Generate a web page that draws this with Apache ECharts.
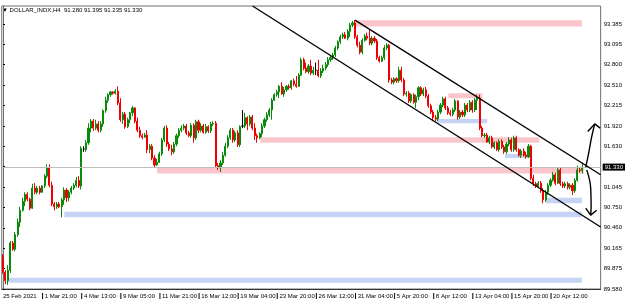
<!DOCTYPE html>
<html>
<head>
<meta charset="utf-8">
<script src="https://cdn.jsdelivr.net/npm/echarts@6/dist/echarts.min.js"></script>
<style>
html, body { margin: 0; padding: 0; background: #fff; }
#chart { width: 625px; height: 304px; }
</style>
</head>
<body>
<div id="chart"></div>
<script>
// header text and last bar quote
const symbolName = 'DOLLAR_INDX,H4'
const lastQuote = ['91.280', '91.395', '91.235', '91.330']
const lastPrice = 91.33

// time axis: one label every 16 H4 bars, 245 slots (chart shift on the right)
const timeLabels = ['25 Feb 2021', '1 Mar 21:00', '4 Mar 13:00', '9 Mar 05:00', '11 Mar 21:00',
  '16 Mar 12:00', '19 Mar 04:00', '23 Mar 20:00', '26 Mar 12:00', '31 Mar 04:00',
  '5 Apr 20:00', '8 Apr 12:00', '13 Apr 04:00', '15 Apr 20:00', '20 Apr 12:00']
const barsPerLabel = 16
const slotCount = 245

// price scale labels (index 6 is covered by the current price box)
const priceMin = 89.58
const priceMax = 93.643
const priceLabels = ['89.580', '89.875', '90.165', '90.460', '90.750', '91.045', '',
  '91.630', '91.920', '92.215', '92.510', '92.800', '93.095', '93.385']

// OHLC, 238 bars
const opens = [
  90.04, 89.82, 89.70, 89.85, 90.24, 90.15, 90.36, 90.54, 90.71, 90.84,
  90.94, 90.87, 90.74, 91.03, 90.97, 91.03, 90.97, 91.06, 91.20, 91.32,
  91.07, 90.80, 90.76, 90.80, 90.76, 90.86, 91.00, 90.89, 90.97, 91.03,
  91.07, 91.14, 91.06, 91.59, 91.58, 91.68, 91.89, 91.99, 91.89, 91.95,
  91.86, 91.95, 92.14, 92.29, 92.37, 92.41, 92.39, 92.42, 92.25, 92.01,
  92.09, 91.91, 92.01, 92.11, 92.18, 91.99, 91.86, 91.78, 91.76, 91.79,
  91.58, 91.63, 91.46, 91.36, 91.40, 91.52, 91.72, 91.89, 91.66, 91.59,
  91.55, 91.66, 91.78, 91.86, 91.89, 91.92, 91.82, 91.78, 91.93, 91.75,
  91.98, 91.86, 91.92, 91.83, 91.91, 91.85, 91.95, 91.96, 91.35, 91.32,
  91.39, 91.50, 91.63, 91.75, 91.86, 91.72, 91.82, 91.65, 91.92, 91.92,
  92.04, 91.95, 92.05, 91.89, 91.78, 91.75, 91.81, 91.92, 92.01, 92.08,
  92.15, 92.29, 92.37, 92.41, 92.49, 92.38, 92.44, 92.49, 92.47, 92.57,
  92.52, 92.49, 92.65, 92.87, 92.75, 92.70, 92.78, 92.68, 92.72, 92.72,
  92.64, 92.71, 92.75, 92.80, 92.87, 92.90, 92.94, 93.04, 93.13, 93.20,
  93.23, 93.18, 93.28, 93.37, 93.40, 93.20, 93.08, 92.98, 93.15, 93.21,
  93.18, 93.11, 93.18, 93.14, 92.90, 92.85, 92.90, 93.04, 93.08, 92.58,
  92.55, 92.60, 92.57, 92.72, 92.58, 92.38, 92.39, 92.28, 92.37, 92.26,
  92.34, 92.47, 92.38, 92.44, 92.35, 92.21, 92.12, 92.04, 92.02, 92.12,
  92.22, 92.31, 92.18, 92.11, 92.09, 92.15, 92.28, 92.05, 92.12, 92.08,
  92.22, 92.15, 92.26, 92.15, 92.29, 92.32, 91.89, 91.78, 91.79, 91.69,
  91.75, 91.62, 91.68, 91.58, 91.70, 91.62, 91.55, 91.66, 91.72, 91.58,
  91.75, 91.58, 91.50, 91.56, 91.50, 91.48, 91.63, 91.17, 91.09, 91.06,
  91.10, 90.99, 90.86, 90.97, 91.07, 91.14, 91.22, 91.10, 91.29, 91.09,
  91.06, 91.09, 91.04, 91.07, 90.99, 91.14, 91.29, 91.28
]
const closes = [
  89.82, 89.70, 89.85, 90.24, 90.15, 90.36, 90.54, 90.71, 90.84, 90.94,
  90.87, 90.74, 91.03, 90.97, 91.03, 90.97, 91.06, 91.20, 91.32, 91.07,
  90.80, 90.76, 90.80, 90.76, 90.86, 91.00, 90.89, 90.97, 91.03, 91.07,
  91.14, 91.06, 91.60, 91.59, 91.68, 91.89, 91.99, 91.89, 91.95, 91.86,
  91.95, 92.14, 92.29, 92.37, 92.41, 92.39, 92.42, 92.25, 92.01, 92.09,
  91.91, 92.01, 92.11, 92.18, 91.99, 91.86, 91.78, 91.76, 91.79, 91.58,
  91.63, 91.46, 91.36, 91.40, 91.52, 91.72, 91.89, 91.66, 91.59, 91.55,
  91.66, 91.78, 91.86, 91.89, 91.92, 91.82, 91.78, 91.93, 91.75, 91.98,
  91.86, 91.92, 91.83, 91.91, 91.85, 91.95, 91.96, 91.35, 91.32, 91.39,
  91.50, 91.63, 91.75, 91.86, 91.72, 91.82, 91.65, 91.91, 91.92, 92.04,
  91.95, 92.05, 91.89, 91.78, 91.75, 91.81, 91.92, 92.01, 92.08, 92.15,
  92.29, 92.37, 92.41, 92.49, 92.38, 92.44, 92.49, 92.47, 92.57, 92.52,
  92.49, 92.65, 92.87, 92.75, 92.70, 92.78, 92.68, 92.72, 92.72, 92.64,
  92.71, 92.75, 92.80, 92.87, 92.90, 92.94, 93.04, 93.13, 93.20, 93.23,
  93.18, 93.28, 93.37, 93.40, 93.20, 93.08, 92.98, 93.15, 93.21, 93.18,
  93.11, 93.18, 93.14, 92.90, 92.85, 92.90, 93.04, 93.08, 92.58, 92.55,
  92.60, 92.57, 92.72, 92.58, 92.38, 92.39, 92.28, 92.37, 92.26, 92.34,
  92.47, 92.38, 92.44, 92.35, 92.21, 92.12, 92.04, 92.02, 92.12, 92.22,
  92.31, 92.18, 92.11, 92.09, 92.15, 92.28, 92.05, 92.12, 92.08, 92.22,
  92.15, 92.26, 92.15, 92.29, 92.32, 91.89, 91.78, 91.79, 91.69, 91.75,
  91.62, 91.68, 91.58, 91.70, 91.62, 91.55, 91.66, 91.72, 91.58, 91.75,
  91.58, 91.50, 91.56, 91.50, 91.48, 91.63, 91.17, 91.09, 91.06, 91.10,
  90.99, 90.86, 90.97, 91.07, 91.14, 91.22, 91.10, 91.29, 91.09, 91.06,
  91.09, 91.04, 91.07, 90.99, 91.14, 91.29, 91.28, 91.33
]
const lows = [
  89.80, 89.65, 89.64, 89.81, 90.13, 90.12, 90.33, 90.47, 90.69, 90.77,
  90.84, 90.71, 90.73, 90.94, 90.94, 90.94, 90.96, 91.03, 91.17, 91.04,
  90.77, 90.71, 90.73, 90.74, 90.61, 90.79, 90.83, 90.84, 90.94, 91.00,
  91.04, 91.03, 91.01, 91.55, 91.55, 91.65, 91.83, 91.85, 91.86, 91.83,
  91.83, 91.91, 92.11, 92.25, 92.34, 92.37, 92.37, 92.22, 91.98, 91.95,
  91.88, 91.89, 91.96, 92.06, 91.96, 91.83, 91.75, 91.73, 91.75, 91.53,
  91.53, 91.43, 91.32, 91.35, 91.39, 91.49, 91.69, 91.62, 91.56, 91.50,
  91.52, 91.63, 91.75, 91.83, 91.86, 91.79, 91.76, 91.75, 91.68, 91.72,
  91.82, 91.83, 91.81, 91.81, 91.82, 91.82, 91.92, 91.32, 91.29, 91.26,
  91.36, 91.48, 91.60, 91.72, 91.68, 91.69, 91.62, 91.62, 91.89, 91.89,
  91.86, 91.92, 91.86, 91.72, 91.68, 91.73, 91.76, 91.89, 91.98, 92.05,
  92.01, 92.28, 92.34, 92.32, 92.37, 92.34, 92.41, 92.44, 92.44, 92.49,
  92.47, 92.48, 92.64, 92.72, 92.68, 92.67, 92.65, 92.65, 92.65, 92.62,
  92.61, 92.68, 92.72, 92.77, 92.84, 92.87, 92.91, 93.01, 93.10, 93.17,
  93.17, 93.15, 93.20, 93.34, 93.17, 93.05, 92.95, 92.95, 93.13, 93.15,
  93.08, 93.08, 93.11, 92.87, 92.83, 92.84, 92.87, 93.01, 92.54, 92.52,
  92.52, 92.54, 92.54, 92.55, 92.35, 92.34, 92.25, 92.25, 92.24, 92.18,
  92.29, 92.35, 92.35, 92.32, 92.18, 92.09, 91.99, 91.99, 91.99, 92.09,
  92.19, 92.15, 92.08, 92.06, 92.06, 92.12, 92.01, 92.02, 92.05, 92.05,
  92.12, 92.12, 92.11, 92.12, 92.15, 91.86, 91.76, 91.75, 91.68, 91.66,
  91.60, 91.59, 91.56, 91.55, 91.59, 91.52, 91.52, 91.63, 91.55, 91.55,
  91.55, 91.48, 91.46, 91.48, 91.45, 91.46, 91.14, 91.06, 91.03, 91.03,
  90.96, 90.81, 90.83, 90.93, 91.04, 91.12, 91.07, 91.09, 91.06, 91.03,
  91.03, 91.01, 91.01, 90.93, 90.96, 91.12, 91.25, 91.235
]
const highs = [
  90.08, 89.85, 89.92, 90.27, 90.27, 90.40, 90.59, 90.76, 90.89, 90.97,
  90.97, 90.89, 91.09, 91.10, 91.06, 91.06, 91.07, 91.23, 91.37, 91.37,
  91.12, 90.83, 90.83, 90.83, 90.89, 91.04, 91.03, 91.00, 91.06, 91.10,
  91.19, 91.20, 91.63, 91.63, 91.72, 91.96, 92.02, 92.02, 92.01, 91.99,
  91.99, 92.16, 92.34, 92.39, 92.42, 92.42, 92.45, 92.49, 92.32, 92.12,
  92.12, 92.04, 92.12, 92.21, 92.19, 92.04, 91.91, 91.81, 91.82, 91.86,
  91.66, 91.66, 91.50, 91.45, 91.55, 91.75, 91.92, 91.93, 91.69, 91.65,
  91.69, 91.81, 91.89, 91.93, 91.95, 91.95, 91.85, 91.96, 91.96, 92.01,
  92.01, 91.96, 91.95, 91.95, 91.93, 91.98, 91.99, 91.99, 91.39, 91.43,
  91.55, 91.68, 91.79, 91.89, 91.89, 91.85, 91.86, 91.93, 92.15, 92.11,
  92.06, 92.08, 92.08, 91.96, 91.81, 91.83, 91.96, 92.04, 92.12, 92.18,
  92.32, 92.39, 92.44, 92.51, 92.55, 92.48, 92.51, 92.52, 92.58, 92.60,
  92.64, 92.68, 92.90, 92.90, 92.83, 92.81, 92.87, 92.77, 92.83, 92.87,
  92.75, 92.80, 92.84, 92.91, 92.93, 92.97, 93.07, 93.15, 93.23, 93.26,
  93.27, 93.31, 93.40, 93.43, 93.44, 93.23, 93.13, 93.18, 93.24, 93.26,
  93.30, 93.21, 93.21, 93.17, 92.93, 92.93, 93.08, 93.11, 93.10, 92.61,
  92.62, 92.62, 92.77, 92.77, 92.61, 92.42, 92.42, 92.39, 92.39, 92.37,
  92.49, 92.49, 92.47, 92.48, 92.38, 92.24, 92.15, 92.08, 92.15, 92.25,
  92.34, 92.34, 92.21, 92.15, 92.18, 92.31, 92.29, 92.15, 92.15, 92.25,
  92.25, 92.29, 92.29, 92.32, 92.37, 92.37, 91.92, 91.82, 91.82, 91.78,
  91.78, 91.70, 91.70, 91.73, 91.73, 91.65, 91.69, 91.76, 91.75, 91.78,
  91.78, 91.60, 91.59, 91.60, 91.55, 91.66, 91.65, 91.22, 91.12, 91.13,
  91.13, 91.03, 91.00, 91.10, 91.17, 91.26, 91.25, 91.33, 91.33, 91.12,
  91.12, 91.12, 91.10, 91.10, 91.17, 91.35, 91.32, 91.395
]
const dojiBars = [33, 98, 128]

// drawn objects, in [bar index, price]
const pinkZones = [
  [144.0, 236.8, 93.44, 93.35],
  [182.2, 196.1, 92.39, 92.32],
  [105.3, 219.3, 91.76, 91.68],
  [63.0, 237.6, 91.33, 91.24]
]
const blueZones = [
  [1.5, 236.8, 89.74, 89.67],
  [25.1, 236.8, 90.69, 90.61],
  [177.4, 198.1, 92.02, 91.96],
  [205.4, 216.4, 91.52, 91.46],
  [222.1, 236.8, 90.89, 90.81]
]
const channelUpper = [[144, 93.44], [244.5, 91.22]]
const channelLower = [[102.1, 93.643], [244.5, 90.47]]
const arrowUp = [[238.4, 91.33], [239.6, 91.53], [240.8, 91.76], [242.1, 91.95]]
const arrowUpHead = [[239.2, 91.84], [242.1, 91.95], [244.3, 91.89]]
const arrowDown = [[238.8, 91.29], [240.4, 91.04], [240.6, 90.76], [240.4, 90.64]]
const arrowDownHead = [[238.4, 90.74], [240.4, 90.64], [242.9, 90.71]]

const font = 'Liberation Sans'
const bull = '#0a8a0a'
const bear = '#f00000'
const pink = '#fac6cb'
const blue = '#c6d3f5'
const priceStep = priceMin / 306

const categories = []
for (let i = 0; i < slotCount; i++) {
  categories.push(i % barsPerLabel === 0 && timeLabels[i / barsPerLabel] ? timeLabels[i / barsPerLabel] : '')
}

const candles = opens.map((o, i) => {
  const v = [o, closes[i], lows[i], highs[i]]
  if (dojiBars.includes(i)) {
    return { value: v, itemStyle: { color: '#000', color0: '#000', borderColor: '#000', borderColor0: '#000' } }
  }
  return v
})

function zoneAreas(list, color) {
  return list.map(z => [
    { coord: [z[0], z[2]], itemStyle: { color: color } },
    { coord: [z[1], z[3]] }
  ])
}

function drawing(data, smooth) {
  return {
    type: 'line', xAxisIndex: 1, yAxisIndex: 0, data: data,
    symbol: 'none', smooth: smooth ? 0.4 : false, silent: true, z: 5,
    lineStyle: { color: '#000', width: 1.4 }
  }
}

const chart = echarts.init(document.getElementById('chart'))
chart.setOption({
  animation: false,
  backgroundColor: '#fff',
  graphic: [{
    type: 'text', left: 2, top: 7,
    style: {
      text: '\u25BC ' + symbolName + '  ' + lastQuote.join(' '),
      font: '6px "' + font + '"', fill: '#000'
    }
  }],
  grid: {
    left: 1, top: 6, right: 23, bottom: 15,
    show: true, borderColor: '#6e6e6e', borderWidth: 1
  },
  xAxis: [{
    type: 'category', data: categories, boundaryGap: true,
    axisLine: { lineStyle: { color: '#333' } },
    axisTick: { show: false },
    splitLine: { show: false },
    axisLabel: {
      interval: 0, align: 'left', margin: 4,
      formatter: (v, i) => v ? (i === 0 ? '{l|' + v + '}' : '{t| }{l| ' + v + '}') : '',
      rich: {
        t: { width: 1, height: 6, backgroundColor: '#000' },
        l: { fontSize: 6, fontFamily: font, color: '#000' }
      }
    }
  }, {
    type: 'value', min: -0.5, max: slotCount - 0.5, show: false
  }],
  yAxis: {
    type: 'value', position: 'right',
    min: priceMin, max: priceMax, interval: priceStep,
    axisLine: { show: true, lineStyle: { color: '#6e6e6e' } },
    axisTick: { show: true, length: 2, lineStyle: { color: '#000' } },
    splitLine: { show: false },
    axisLabel: {
      margin: 3, fontSize: 6, fontFamily: font, color: '#000',
      showMaxLabel: false,
      formatter: v => {
        const k = Math.round((v - priceMin) / priceStep)
        if (Math.abs(v - (priceMin + k * priceStep)) > 1e-6) return ''
        return priceLabels[k] || ''
      }
    }
  },
  series: [{
    type: 'line', xAxisIndex: 1, yAxisIndex: 0, data: [], z: 1, silent: true,
    markArea: {
      silent: true,
      data: zoneAreas(pinkZones, pink).concat(zoneAreas(blueZones, blue))
    }
  }, {
    type: 'candlestick', data: candles, z: 3, barWidth: 1.6,
    itemStyle: { color: bull, color0: bear, borderColor: bull, borderColor0: bear, borderWidth: 1 },
    markLine: {
      silent: true, symbol: 'none',
      lineStyle: { color: '#bdbdbd', width: 1, type: 'solid' },
      label: {
        position: 'end', distance: 2, formatter: lastQuote[3],
        backgroundColor: '#000', color: '#fff', padding: [1, 2, 0, 2],
        fontSize: 6, fontFamily: font
      },
      data: [{ yAxis: lastPrice }]
    }
  },
  drawing(channelUpper), drawing(channelLower),
  drawing(arrowUp, true), drawing(arrowUpHead),
  drawing(arrowDown, true), drawing(arrowDownHead)]
})
</script>
</body>
</html>
